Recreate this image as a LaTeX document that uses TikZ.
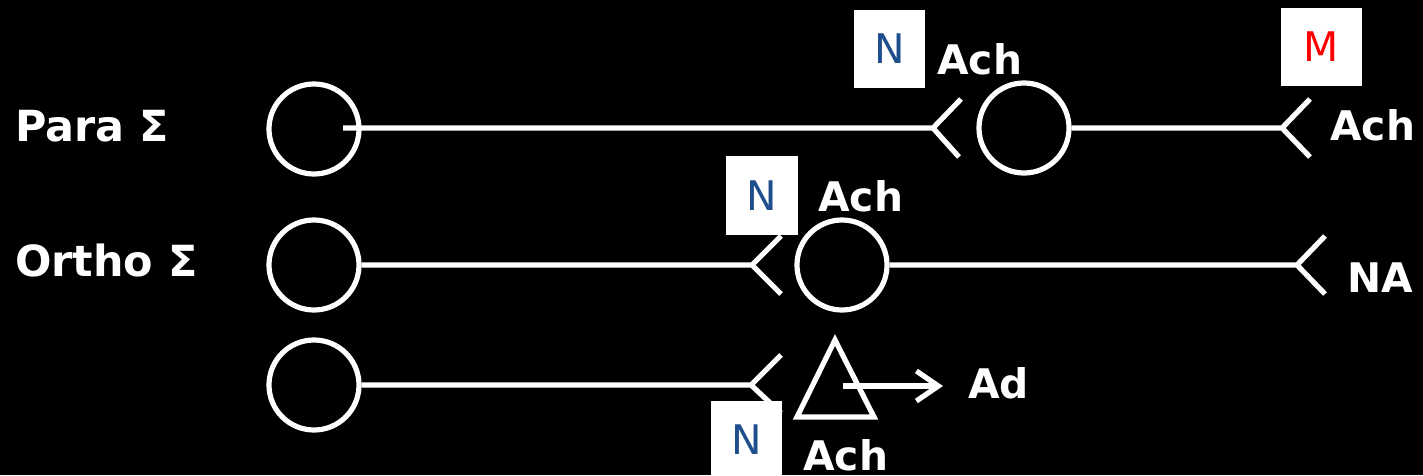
\documentclass[tikz,border=0pt]{standalone}
\usepackage{fontspec}
\setmainfont{DejaVu Sans}
\usetikzlibrary{arrows.meta}
\definecolor{nblue}{RGB}{31,78,140}

\begin{document}
\begin{tikzpicture}[x=0.025cm,y=-0.025cm]
\tikzset{bond/.style={draw=white,line width=0.13cm}}
\tikzset{ring/.style={circle,bond,minimum size=2.25cm,inner sep=0}}
\tikzset{lbl/.style={text=white,inner sep=0,anchor=base west,font=\bfseries\fontsize{29}{35}\selectfont}}
\tikzset{tag/.style={fill=white,inner sep=0,minimum height=1.95cm,minimum width=1.78cm,font=\fontsize{29}{35}\selectfont}}

\fill[black] (0,0) rectangle (1423,475);
\useasboundingbox (0,0) rectangle (1423,475);

% Para row
\node[lbl,font=\bfseries\fontsize{30.5}{36}\selectfont] (para) at (15,141) {Para Σ};
\node[ring] (para1) at (314,129) {};
\node[ring] (para2) at (1024,128) {};
\coordinate (pin) at (343,128);
\coordinate (pf1) at (933,128);
\coordinate (pf2) at (1282,128);
\draw[bond] (pin) -- (pf1) (pf1) -- ++(28,-29) (pf1) -- ++(26,29);
\draw[bond] (para2) -- (pf2) (pf2) -- ++(28,-29) (pf2) -- ++(28,29);
\node[lbl] (pach1) at (937,74) {Ach};
\node[lbl] (pach2) at (1330,140) {Ach};

% Ortho row
\node[lbl,font=\bfseries\fontsize{30.5}{36}\selectfont] (ortho) at (15,276) {Ortho Σ};
\node[ring] (ortho1) at (314,265) {};
\node[ring] (ortho2) at (842,265) {};
\coordinate (of1) at (752,265);
\coordinate (of2) at (1297,265);
\draw[bond] (ortho1) -- (of1) (of1) -- ++(29,-29) (of1) -- ++(29,29);
\draw[bond] (ortho2) -- (of2) (of2) -- ++(28,-29) (of2) -- ++(28,29);
\node[lbl] (oach) at (818,211) {Ach};
\node[lbl] (na) at (1347,292) {NA};

% third row
\node[ring] (adr1) at (314,385) {};
\coordinate (af) at (751,385);
\draw[bond] (adr1) -- (af) (af) -- ++(30,-30) (af) -- ++(30,28);
\coordinate (tria) at (835,340);
\coordinate (trib) at (874,417);
\coordinate (tric) at (797,417);
\draw[bond,line join=miter] (tria) -- (trib) -- (tric) -- cycle;
\coordinate (tri) at (843,386);
\coordinate (adtip) at (943,386);
\draw[bond,-{Straight Barb[length=0.55cm,width=0.75cm]}] (tri) -- (adtip);
\node[lbl] (ad) at (968,398) {Ad};
\node[lbl] (aach) at (803,470) {Ach};

% tags
\node[tag,text=nblue] (n1) at (889.5,49) {N};
\node[tag,text=red,minimum width=2.03cm] (m1) at (1321.5,47) {M};
\node[tag,text=nblue] (n2) at (762,195.5) {N};
\node[tag,text=nblue] (n3) at (746.5,440) {N};

\end{tikzpicture}
\end{document}
